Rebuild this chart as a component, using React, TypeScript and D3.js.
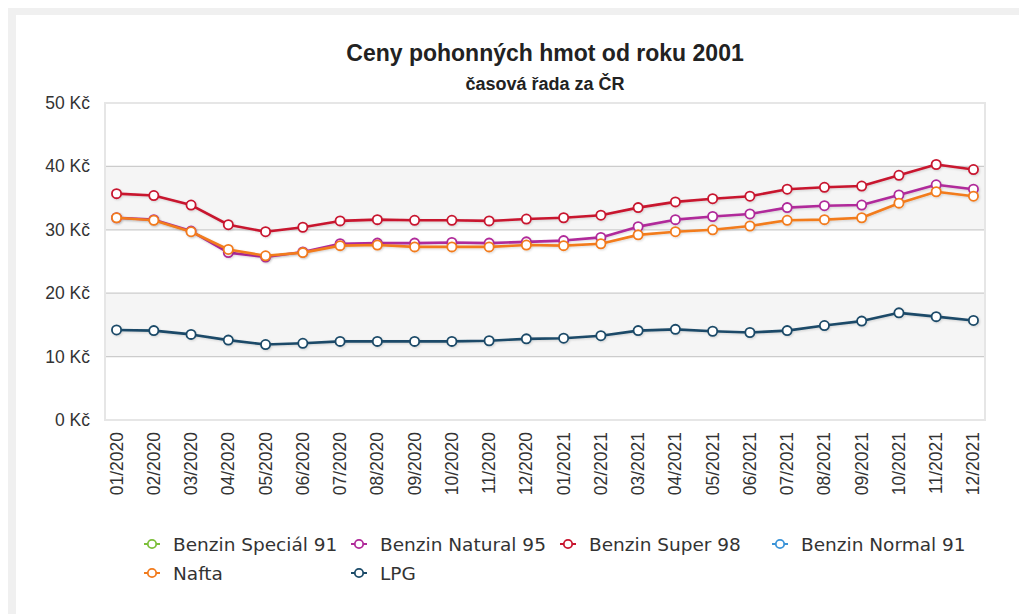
import React from "react";
import * as d3 from "d3";

const months: string[] = [
  "01/2020", "02/2020", "03/2020", "04/2020", "05/2020", "06/2020",
  "07/2020", "08/2020", "09/2020", "10/2020", "11/2020", "12/2020",
  "01/2021", "02/2021", "03/2021", "04/2021", "05/2021", "06/2021",
  "07/2021", "08/2021", "09/2021", "10/2021", "11/2021", "12/2021",
];

const special91: number[] = [];
const natural95: number[] = [
  31.9, 31.6, 29.8, 26.4, 25.7, 26.5, 27.8, 27.9, 27.9, 28.0, 27.9, 28.1,
  28.3, 28.8, 30.5, 31.6, 32.1, 32.5, 33.5, 33.8, 33.9, 35.5, 37.1, 36.4,
];
const super98: number[] = [
  35.7, 35.4, 33.9, 30.8, 29.7, 30.4, 31.4, 31.6, 31.5, 31.5, 31.4, 31.7,
  31.9, 32.3, 33.5, 34.4, 34.9, 35.3, 36.4, 36.7, 36.9, 38.6, 40.3, 39.5,
];
const normal91: number[] = [];
const nafta: number[] = [
  31.9, 31.5, 29.7, 26.9, 25.9, 26.4, 27.5, 27.6, 27.3, 27.3, 27.3, 27.6,
  27.5, 27.8, 29.2, 29.7, 30.0, 30.6, 31.5, 31.6, 31.9, 34.2, 36.0, 35.3,
];
const lpg: number[] = [
  14.2, 14.1, 13.5, 12.6, 11.9, 12.1, 12.4, 12.4, 12.4, 12.4, 12.5, 12.8,
  12.9, 13.3, 14.1, 14.3, 14.0, 13.8, 14.1, 14.9, 15.6, 16.9, 16.3, 15.7,
];

const yTicks: number[] = [0, 10, 20, 30, 40, 50];

const seriesNames: string[] = [
  "Benzin Speciál 91", "Benzin Natural 95", "Benzin Super 98",
  "Benzin Normal 91", "Nafta", "LPG",
];
const seriesColors: string[] = [
  "#7cbf3a", "#b02a9a", "#c8152f", "#3a93d8", "#f27b1d", "#1b4a68",
];
const seriesValues: number[][] = [special91, natural95, super98, normal91, nafta, lpg];
// drawing order (bottom to top)
const drawOrder: number[] = [0, 3, 5, 2, 1, 4];

const W = 1019;
const H = 614;
const PL = 105, PR = 985, PT = 103, PB = 420;

export default function App() {
  const x = d3.scalePoint<string>().domain(months).range([PL, PR]).padding(0.31);
  const y = d3.scaleLinear().domain([0, 50]).range([PB, PT]);
  const line = d3
    .line<number>()
    .x((_, i) => x(months[i]) as number)
    .y((d) => y(d));

  const legendPos = [
    { x: 152, y: 544 }, { x: 359, y: 544 }, { x: 568, y: 544 },
    { x: 780, y: 544 }, { x: 152, y: 573 }, { x: 359, y: 573 },
  ];

  const sans = "'Liberation Sans', Arial, Helvetica, sans-serif";

  return (
    <svg
      width={W}
      height={H}
      style={{ position: "absolute", left: 0, top: 0, background: "#fff" }}
    >
      <defs>
        <filter id="shadow" x="-5%" y="-20%" width="110%" height="140%">
          <feDropShadow dx="1" dy="1" stdDeviation="1" floodColor="#000" floodOpacity="0.15" />
        </filter>
      </defs>
      {/* outer frame */}
      <rect x={8} y={8} width={W - 8} height={7} fill="#f0f0f0" />
      <rect x={8} y={8} width={8} height={H - 8} fill="#f0f0f0" />

      {/* title */}
      <text x={545} y={61} textAnchor="middle" fontFamily={sans} fontWeight="bold" fontSize={23} fill="#222">
        Ceny pohonných hmot od roku 2001
      </text>
      <text x={545} y={90} textAnchor="middle" fontFamily={sans} fontWeight="bold" fontSize={18} fill="#222">
        časová řada za ČR
      </text>

      {/* plot background bands */}
      <rect x={PL} y={PT} width={PR - PL} height={PB - PT} fill="#fff" />
      {[[10, 20], [30, 40]].map(([a, b], i) => (
        <rect key={i} x={PL} y={y(b)} width={PR - PL} height={y(a) - y(b)} fill="#f5f5f5" />
      ))}
      {yTicks.slice(1, -1).map((t) => (
        <line key={t} x1={PL} x2={PR} y1={y(t)} y2={y(t)} stroke="#cccccc" strokeWidth={1.2} />
      ))}
      <rect x={PL} y={PT} width={PR - PL} height={PB - PT} fill="none" stroke="#e6e6e6" strokeWidth={2} />

      {/* y axis labels */}
      {yTicks.map((t) => (
        <text key={t} x={90} y={y(t) + 6} textAnchor="end" fontFamily={sans} fontSize={17.5} fill="#333">
          {t} Kč
        </text>
      ))}

      {/* x axis labels */}
      {months.map((m) => (
        <text
          key={m}
          transform={`translate(${(x(m) as number) + 6},432) rotate(-90)`}
          textAnchor="end"
          fontFamily={sans}
          fontSize={17.5}
          fill="#333"
        >
          {m}
        </text>
      ))}

      {/* series */}
      {drawOrder.map((si) => {
        const vals = seriesValues[si];
        if (!vals.length) return null;
        return (
          <g key={si} filter="url(#shadow)">
            <path d={line(vals) || ""} fill="none" stroke={seriesColors[si]} strokeWidth={2.6} strokeLinejoin="round" />
            {vals.map((v, i) => (
              <circle key={i} cx={x(months[i]) as number} cy={y(v)} r={4.6} fill="#fff" stroke={seriesColors[si]} strokeWidth={1.8} />
            ))}
          </g>
        );
      })}

      {/* legend */}
      {seriesNames.map((n, i) => (
        <g key={n} transform={`translate(${legendPos[i].x},${legendPos[i].y})`}>
          <line x1={-8} x2={8} y1={0} y2={0} stroke={seriesColors[i]} strokeWidth={2} />
          <circle r={4.2} fill="#fff" stroke={seriesColors[i]} strokeWidth={1.8} />
          <text x={21} y={6.5} fontFamily="'DejaVu Sans', sans-serif" fontSize={18.5} fill="#333">
            {n}
          </text>
        </g>
      ))}
    </svg>
  );
}
